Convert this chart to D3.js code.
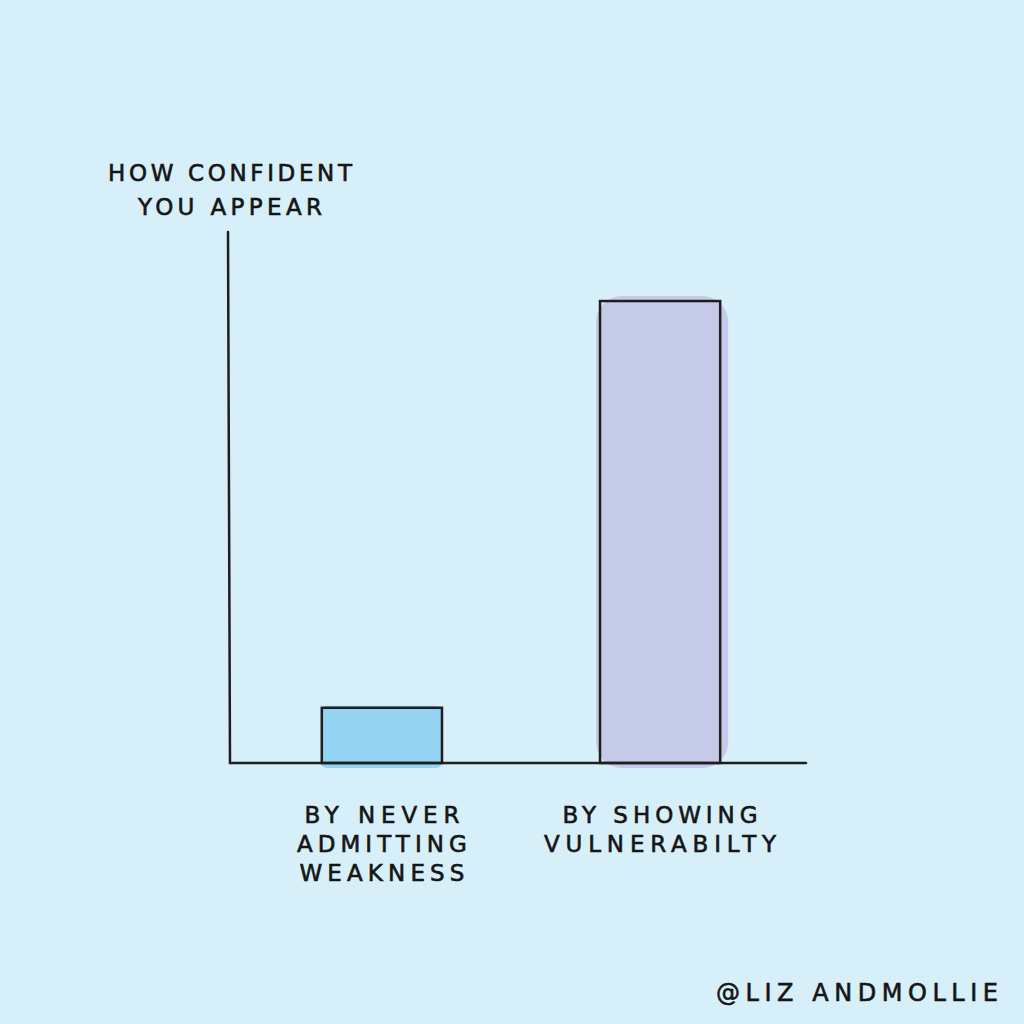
<!DOCTYPE html>
<html>
<head>
<meta charset="utf-8">
<script src="https://cdn.jsdelivr.net/npm/d3@7"></script>
<style>
  html, body { margin: 0; padding: 0; background: #d7eff9; }
  text { font-family: "DejaVu Sans", "Noto Sans", sans-serif; fill: #151515; stroke: #151515; stroke-width: 0.6px; }
</style>
</head>
<body>
<div class="canva"></div>
<script>
// data
const categories = ["never", "showing"];
const values = [10.4, 87];
const labelLines = [["BY NEVER", "ADMITTING", "WEAKNESS"], ["BY SHOWING", "VULNERABILTY"]];
const labelWidths = [[155, 170, 165], [195, 232]];
const fills = ["#94d3f1", "#c4cae8"];
const yTitle = ["HOW CONFIDENT", "YOU APPEAR"];
const credit = "@LIZ ANDMOLLIE";

const width = 1024, height = 1024;
const svg = d3.select(".canva").append("svg")
    .attr("width", width)
    .attr("height", height);

svg.append("rect").attr("width", width).attr("height", height).attr("fill", "#d7eff9");

const x = d3.scaleBand()
    .domain(categories)
    .range([230, 812])
    .paddingInner(0.568)
    .paddingOuter(0.33);

const y = d3.scaleLinear()
    .domain([0, 100])
    .range([763, 232]);

const ink = "#1e1e1e";

// soft colour blobs behind the outlines
svg.selectAll("rect.blob")
    .data(values)
    .enter()
    .append("rect")
    .attr("class", "blob")
    .attr("x", (d, i) => x(categories[i]) - (i ? 4 : 1))
    .attr("y", d => y(d) - (d > 50 ? 5 : 2))
    .attr("width", (d, i) => x.bandwidth() + (i ? 12 : 1))
    .attr("height", d => y(0) - y(d) + (d > 50 ? 10 : 7))
    .attr("rx", d => d > 50 ? 26 : 6)
    .attr("fill", (d, i) => fills[i]);

// bar outlines
svg.selectAll("rect.bar")
    .data(values)
    .enter()
    .append("rect")
    .attr("class", "bar")
    .attr("x", (d, i) => x(categories[i]))
    .attr("y", d => y(d))
    .attr("width", x.bandwidth())
    .attr("height", d => y(0) - y(d))
    .attr("fill", "none")
    .attr("stroke", ink)
    .attr("stroke-width", 2.5);

// axes (hand drawn look: plain lines, no ticks)
svg.append("line")
    .attr("x1", 228).attr("x2", 230)
    .attr("y1", y(100)).attr("y2", y(0))
    .attr("stroke", ink).attr("stroke-width", 2.5).attr("stroke-linecap", "round");
svg.append("line")
    .attr("x1", 230).attr("x2", 806)
    .attr("y1", y(0)).attr("y2", y(0))
    .attr("stroke", ink).attr("stroke-width", 2.5).attr("stroke-linecap", "round");

// y title
const titleWidths = [244, 184];
svg.selectAll("text.ytitle")
    .data(yTitle)
    .enter()
    .append("text")
    .attr("class", "ytitle")
    .attr("x", 230)
    .attr("y", (d, i) => 181 + i * 34)
    .attr("text-anchor", "middle")
    .attr("font-size", 23)
    .attr("textLength", (d, i) => titleWidths[i])
    .attr("lengthAdjust", "spacing")
    .text(d => d);

// category labels
categories.forEach((c, i) => {
    svg.selectAll("text.lab" + i)
        .data(labelLines[i])
        .enter()
        .append("text")
        .attr("x", x(c) + x.bandwidth() / 2)
        .attr("y", (d, j) => 823 + j * 29)
        .attr("text-anchor", "middle")
        .attr("font-size", 23)
        .attr("textLength", (d, j) => labelWidths[i][j])
        .attr("lengthAdjust", "spacing")
        .text(d => d);
});

// credit
svg.append("text")
    .attr("x", 716)
    .attr("y", 1001)
    .attr("font-size", 24)
    .attr("textLength", 282)
    .attr("lengthAdjust", "spacing")
    .text(credit);
</script>
</body>
</html>
